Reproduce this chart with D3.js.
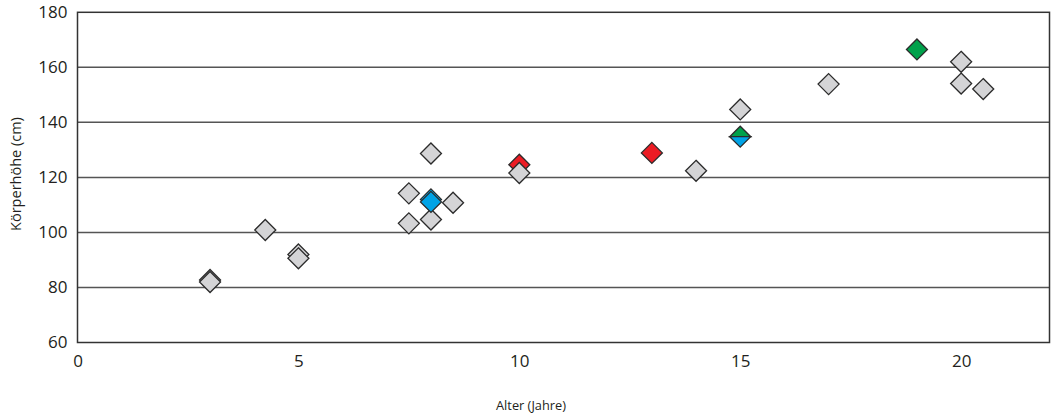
<!DOCTYPE html>
<html><head><meta charset="utf-8">
<script src="https://cdn.jsdelivr.net/npm/d3@7"></script>
<style>body{margin:0;background:#fff} text{font-family:"Open Sans",sans-serif;fill:#231f20}</style>
</head><body><svg id="c" width="1054" height="417"></svg>
<script>
const xTicks=[0,5,10,15,20];
const yTicks=[60,80,100,120,140,160,180];
const grayAge=[3,3,4.25,5,5,7.5,7.5,8,8,8.5,10,14,15,17,20,20,20.5];
const grayHeight=[82.7,82,100.9,92,90.6,114.2,103.3,128.7,104.7,110.8,121.6,122.4,144.7,153.9,162,154.1,152.1];
const redAge=[10,13];
const redHeight=[124.6,128.9];
const blueAge=[8,8];
const blueHeight=[112,111.1];
const greenAge=[19];
const greenHeight=[166.5];
const splitAge=[15];       // top half green, bottom half blue
const splitHeight=[134.8];
const xTitle="Alter (Jahre)";
const yTitle="Körperhöhe (cm)";

const svg=d3.select("#c");
const L=77.5,R=1049.5,T=12.3,B=342.5;
const x=d3.scaleLinear().domain([0,22]).range([L,R]);
const y=d3.scaleLinear().domain([60,180]).range([B,T]);
const r=10.5;
const diamond=`M0,${-r}L${r},0L0,${r}L${-r},0Z`;
const topHalf=`M${-r},0L0,${-r}L${r},0Z`;
const botHalf=`M${-r},0L0,${r}L${r},0Z`;

// gridlines
svg.append("g").selectAll("line").data(yTicks.filter(d=>d>60&&d<180)).join("line")
  .attr("x1",L).attr("x2",R).attr("y1",d=>y(d)).attr("y2",d=>y(d))
  .attr("stroke","#555").attr("stroke-width",1.5);
// frame
svg.append("rect").attr("x",L).attr("y",T).attr("width",R-L).attr("height",B-T)
  .attr("fill","none").attr("stroke","#333").attr("stroke-width",1.5);

// y axis labels
const ya=svg.append("g").attr("transform",`translate(${L},0)`)
  .call(d3.axisLeft(y).tickValues(yTicks).tickSize(0).tickPadding(10));
ya.select(".domain").remove();
ya.selectAll("text").attr("font-size",17).attr("font-family","Open Sans").attr("fill","#231f20");
// x axis labels
const xa=svg.append("g").attr("transform",`translate(0,${B})`)
  .call(d3.axisBottom(x).tickValues(xTicks).tickSize(0).tickPadding(12));
xa.select(".domain").remove();
xa.selectAll("text").attr("font-size",17).attr("font-family","Open Sans").attr("fill","#231f20");

svg.append("text").attr("x",531).attr("y",410).attr("text-anchor","middle").attr("font-size",12.8).text(xTitle);
svg.append("text").attr("transform","translate(21,174) rotate(-90)").attr("text-anchor","middle").attr("font-size",14.5).text(yTitle);

function pts(ax,hy,fill){
  svg.append("g").selectAll("path").data(ax.map((a,i)=>[a,hy[i]])).join("path")
    .attr("d",diamond).attr("transform",d=>`translate(${x(d[0])},${y(d[1])})`)
    .attr("fill",fill).attr("stroke","#2b2b2b").attr("stroke-width",1.3).attr("stroke-linejoin","miter");
}
pts(redAge,redHeight,"#ec1c24");
pts(grayAge,grayHeight,"#d4d4d6");
pts(blueAge,blueHeight,"#00a3e6");
pts(greenAge,greenHeight,"#00a14b");
const sp=svg.append("g").selectAll("g").data(splitAge.map((a,i)=>[a,splitHeight[i]])).join("g")
  .attr("transform",d=>`translate(${x(d[0])},${y(d[1])})`);
sp.append("path").attr("d",topHalf).attr("fill","#00a14b").attr("stroke","#2b2b2b").attr("stroke-width",1.3);
sp.append("path").attr("d",botHalf).attr("fill","#00a3e6").attr("stroke","#2b2b2b").attr("stroke-width",1.3);
</script></body></html>
